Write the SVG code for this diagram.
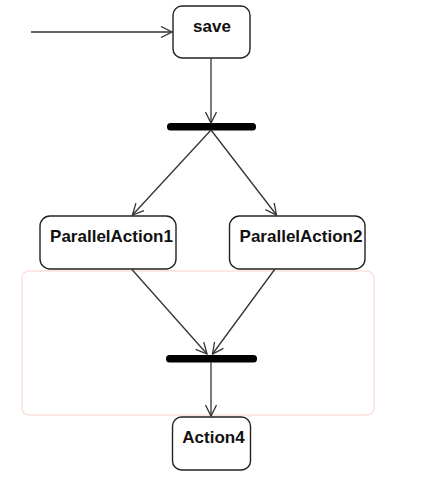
<svg xmlns="http://www.w3.org/2000/svg" width="437" height="496" viewBox="0 0 437 496">
<style>
.node rect{fill:#fff;stroke:#222;stroke-width:1.4}
.node text{font-family:"Liberation Sans",Arial,sans-serif;font-weight:bold;font-size:17px;fill:#111;text-anchor:middle}
.bar{fill:#000}
.edge{stroke:#333;stroke-width:1.3;fill:none;marker-end:url(#arr)}
</style>
<defs>
<marker id="arr" viewBox="-12 -6 14 12" refX="0" refY="0" markerWidth="14" markerHeight="12" markerUnits="userSpaceOnUse" orient="auto">
<path d="M-11,-5.5 L0,0 L-11,5.5" fill="none" stroke="#333" stroke-width="1.3"/>
</marker>
</defs>
<rect id="frame" x="22" y="271" width="352" height="144" rx="7" fill="none" stroke="#fbe1dc" stroke-width="1.5"/>
<g id="save" class="node"><rect x="173" y="6" width="77" height="52" rx="9"/><text x="212" y="32">save</text></g>
<g id="fork"><rect class="bar" x="167" y="123" width="89" height="7.5" rx="3.5"/></g>
<g id="pa1" class="node"><rect x="40" y="216" width="136" height="53" rx="10"/><text x="111.5" y="242">ParallelAction1</text></g>
<g id="pa2" class="node"><rect x="229.5" y="216" width="135.5" height="53" rx="10"/><text x="301" y="242">ParallelAction2</text></g>
<g id="join"><rect class="bar" x="166" y="355" width="91" height="7.5" rx="3.5"/></g>
<g id="action4" class="node"><rect x="172.5" y="417" width="78" height="53" rx="9"/><text x="213.5" y="443">Action4</text></g>
<g id="connectors">
<line class="edge" x1="31" y1="32" x2="172" y2="32"/>
<line class="edge" x1="211" y1="58" x2="211" y2="123"/>
<line class="edge" x1="211" y1="130" x2="132.5" y2="215"/>
<line class="edge" x1="211" y1="130" x2="276.5" y2="215"/>
<line class="edge" x1="131.5" y1="269" x2="207" y2="354"/>
<line class="edge" x1="275" y1="269" x2="212.5" y2="354"/>
<line class="edge" x1="211" y1="362" x2="211" y2="416"/>
</g>
</svg>
